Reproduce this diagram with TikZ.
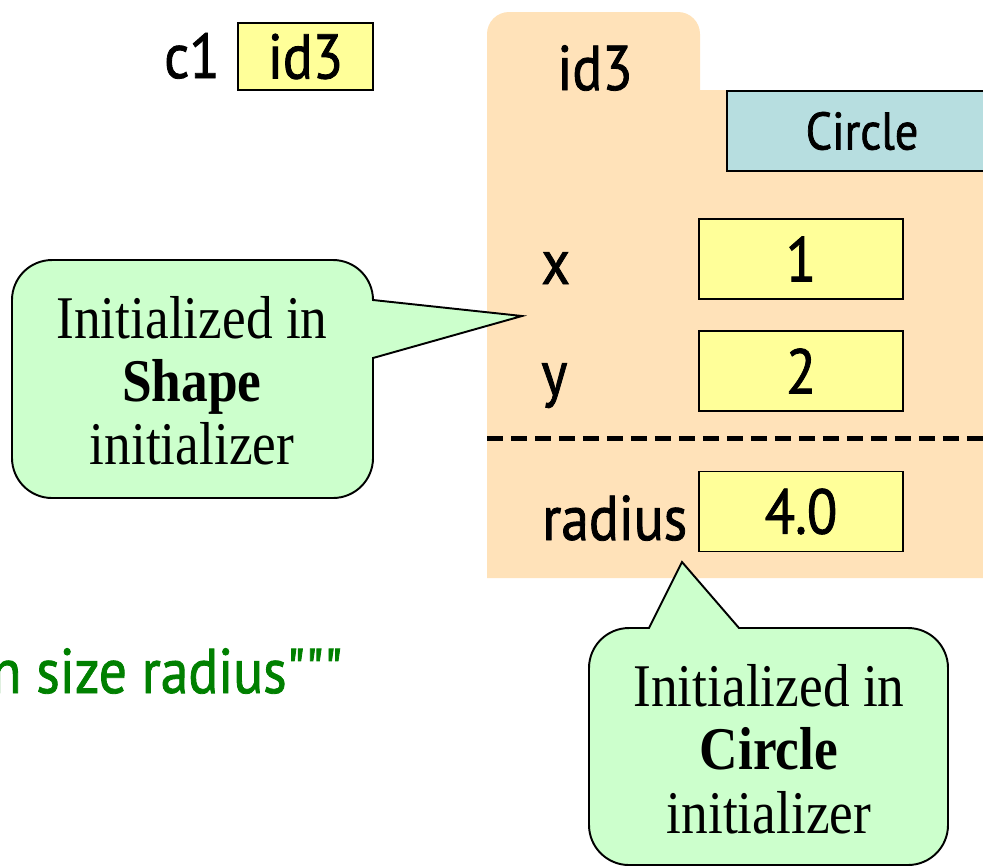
\documentclass[tikz,border=0pt]{standalone}
\usepackage{fontspec}
\setmainfont{Liberation Serif}[FakeStretch=0.88]
\newfontfamily\dinfont[FakeStretch=0.88, FakeBold=1.3]{PT Sans}
\usetikzlibrary{positioning}
\pgfdeclarelayer{bg}
\pgfsetlayers{bg,main}
\definecolor{objfill}{RGB}{255,226,185}
\definecolor{valyellow}{RGB}{255,255,153}
\definecolor{classblue}{RGB}{183,222,224}
\definecolor{notegreen}{RGB}{204,255,204}
\definecolor{docgreen}{RGB}{0,128,0}

\begin{document}
\begin{tikzpicture}[x=0.02cm, y=-0.02cm,
    valbox/.style={draw, fill=valyellow, line width=1.1pt, inner sep=0pt, minimum width=4.08cm, minimum height=1.6cm, font=\dinfont\fontsize{36}{40}\selectfont},
    varlabel/.style={anchor=base west, inner sep=0pt, font=\dinfont\fontsize{36}{40}\selectfont},
    bubble/.style={draw, fill=notegreen, line width=1.1pt},
    bubbletext/.style={align=center, inner sep=0pt, font=\fontsize{34.5}{36}\selectfont}]
    \useasboundingbox (0,0) rectangle (983,867);

    \node (c1box) [valbox, minimum width=2.7cm, minimum height=1.34cm] at (305.5,56.5) {id3};
    \node (c1) [varlabel, anchor=base east] at (220,78) {c1};

    \node (objid) [varlabel, anchor=base] at (595,90) {id3};
    \node (cls) [draw, fill=classblue, line width=1.1pt, minimum width=5.4cm, minimum height=1.6cm, font=\dinfont\fontsize{30}{34}\selectfont] at (862,131) {Circle};

    \node (xval) [valbox] at (801,259) {1};
    \node (yval) [valbox] at (801,371) {2};
    \node (rval) [valbox] at (801,511.5) {4.0};
    \node (xlab) [varlabel] at (541,284) {x};
    \node (ylab) [varlabel] at (541,395) {y};
    \node (rlab) [varlabel] at (542,540) {radius};

    \node (shapetxt) [bubbletext] at (192,381) {Initialized in\\\textbf{Shape}\\initializer};
    \node (circtxt) [bubbletext] at (769,749) {Initialized in\\\textbf{Circle}\\initializer};

    \node (doc) [varlabel, anchor=base east, text=docgreen] at (343,693) {n size radius"""};

    \coordinate (xtip) at (522,316);
    \coordinate (rtip) at (682,562);

    \begin{pgfonlayer}{bg}
        % object folder
        \fill[objfill] (487,90) -- (487,34) arc[start angle=180, end angle=90, radius=0.44cm]
            -- (678,12) arc[start angle=90, end angle=0, radius=0.44cm]
            -- (700,90) -- (990,90) -- (990,578) -- (487,578) -- cycle;
        \draw[line width=0.1cm, dash pattern=on 0.32cm off 0.16cm] (487,438) -- (990,438);

        % notes
        \draw[bubble] (52,260) -- (333,260) arc[start angle=90, end angle=0, radius=0.8cm]
            -- (xtip) -- (373,358) -- (373,458) arc[start angle=0, end angle=-90, radius=0.8cm]
            -- (52,498) arc[start angle=270, end angle=180, radius=0.8cm]
            -- (12,300) arc[start angle=180, end angle=90, radius=0.8cm] -- cycle;
        \draw[bubble] (629,628) -- (649,628) -- (rtip) -- (739,628)
            -- (908,628) arc[start angle=90, end angle=0, radius=0.8cm]
            -- (948,825) arc[start angle=0, end angle=-90, radius=0.8cm]
            -- (629,865) arc[start angle=270, end angle=180, radius=0.8cm]
            -- (589,668) arc[start angle=180, end angle=90, radius=0.8cm] -- cycle;
    \end{pgfonlayer}
\end{tikzpicture}
\end{document}
